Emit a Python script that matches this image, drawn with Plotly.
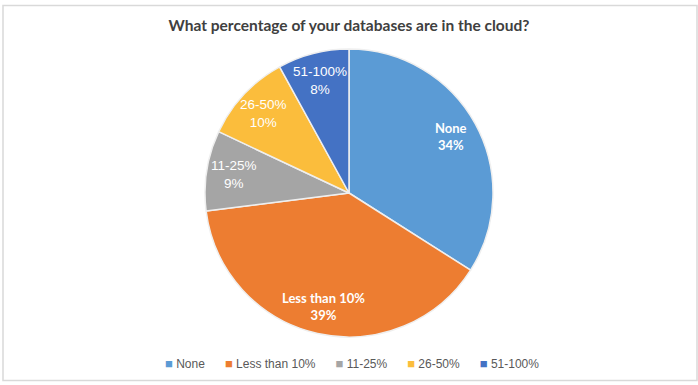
import math
import plotly.graph_objects as go

categories = ["None", "Less than 10%", "11-25%", "26-50%", "51-100%"]
values = [34, 39, 9, 10, 8]
colors = ["#5B9BD5", "#ED7D31", "#A5A5A5", "#FBBD3C", "#4472C4"]
bold = [True, True, False, False, False]
title = "What percentage of your databases are in the cloud?"

W, H = 698, 385
dom_x = [205 / W, 493 / W]
dom_y = [1 - 337 / H, 1 - 49 / H]

fig = go.Figure(go.Pie(
    labels=categories,
    values=values,
    textinfo="none",
    sort=False,
    direction="clockwise",
    rotation=0,
    marker=dict(colors=colors, line=dict(color="#EFEFEF", width=1.5)),
    domain=dict(x=dom_x, y=dom_y),
    hoverinfo="label+percent",
    showlegend=False,
))

# slice labels placed along each slice's mid-angle (derived from the values)
cx = (dom_x[0] + dom_x[1]) / 2
cy = (dom_y[0] + dom_y[1]) / 2
R = (dom_y[1] - dom_y[0]) * H / 2
total = sum(values)
cum = 0
annotations = []
for c, v, b in zip(categories, values, bold):
    mid = (cum + v / 2) / total * 2 * math.pi
    cum += v
    r = 0.81 * R
    x = cx + r * math.sin(mid) / W
    y = cy + r * math.cos(mid) / H
    txt = f"{c}<br>{round(v / total * 100)}%"
    if b:
        txt = f"<b>{txt}</b>"
        font = dict(family="Lato, Open Sans, sans-serif", size=13, color="white")
    else:
        font = dict(family="Arial, Liberation Sans, sans-serif", size=13.5, color="white")
    annotations.append(dict(x=x, y=y, xref="paper", yref="paper", text=txt, showarrow=False,
                            font=font, xanchor="center", yanchor="middle", align="center"))

# legend row
items = []
for c, col in zip(categories, colors):
    items.append(f"<span style='color:{col};font-size:13px'>■</span> {c}")
legend_text = "      ".join(items)
annotations.append(dict(x=352 / W, y=1 - 363 / H, xref="paper", yref="paper", text=legend_text,
                        showarrow=False, xanchor="center", yanchor="middle",
                        font=dict(family="Arial, Liberation Sans, sans-serif", size=12, color="#595959")))

fig.update_layout(
    width=W, height=H,
    margin=dict(l=0, r=0, t=0, b=0),
    paper_bgcolor="white",
    title=dict(text=f"<b>{title}</b>", x=0.5, xanchor="center", y=1 - 26 / H, yanchor="middle",
               font=dict(family="Lato, Open Sans, sans-serif", size=15.5, color="#404040")),
    annotations=annotations,
    shapes=[dict(type="rect", xref="paper", yref="paper", x0=3 / W, x1=697 / W, y0=1 - 380.5 / H, y1=1 - 5.5 / H,
                 line=dict(color="#D9D9D9", width=1.5), fillcolor="rgba(0,0,0,0)", layer="below")],
)

fig.write_html("out.html", config={"displayModeBar": False},
               post_script="document.body.style.margin='0';")
